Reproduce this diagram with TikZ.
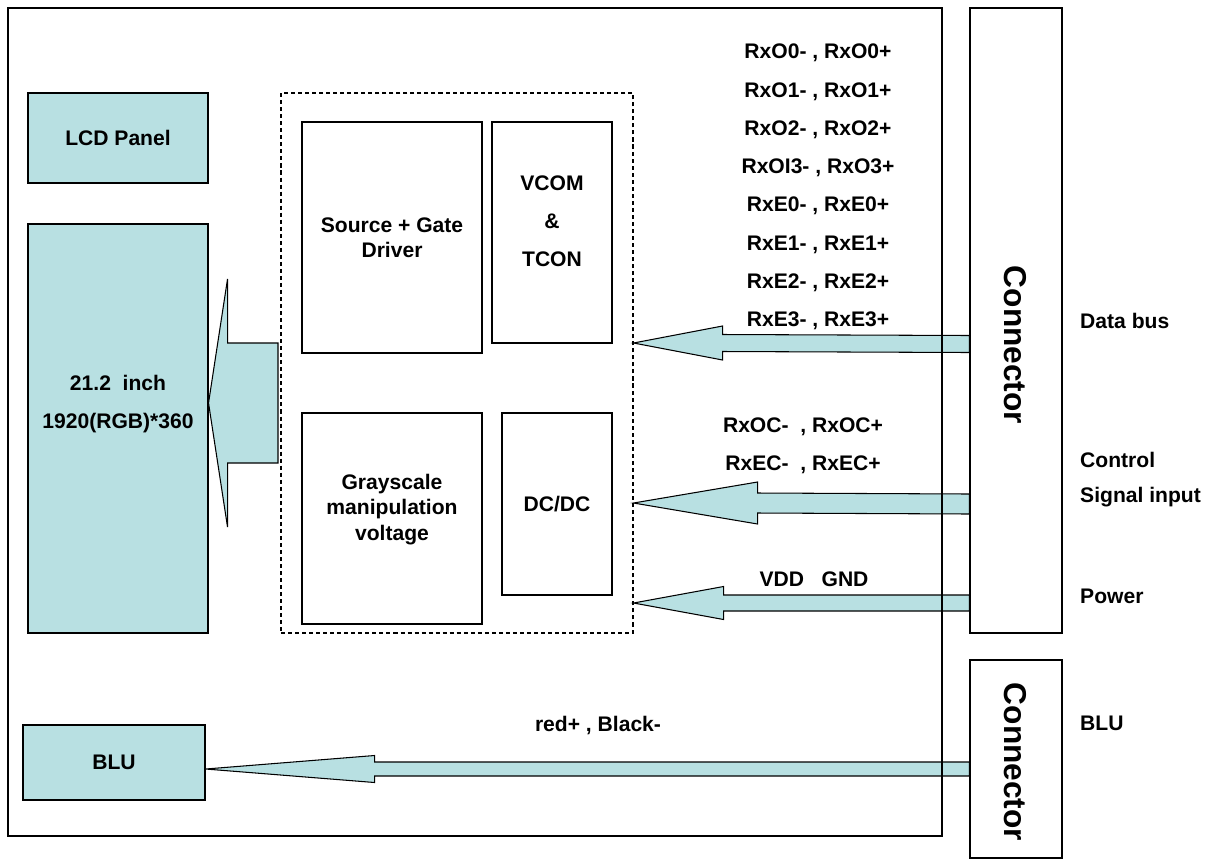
\documentclass[tikz,border=0pt]{standalone}
\usepackage{fontspec}
\setmainfont{Liberation Sans}
\usetikzlibrary{
    positioning,    % relative placement
    calc            % coordinate calculations for the block arrows
}

\definecolor{panelblue}{RGB}{184,224,226}

\begin{document}
\begin{tikzpicture}[
    font=\fontsize{12}{14.5}\selectfont\bfseries,
    box/.style={rectangle, draw, line width=0.6pt, align=center, inner sep=0pt},
    panel/.style={box, fill=panelblue},
    chip/.style={box, fill=white},
    conn/.style={box, minimum width=1.84cm},
    conntext/.style={rotate=-90, font=\fontsize{18}{20}\selectfont\bfseries},
    side/.style={anchor=west, align=left},
    barrow/.style n args={3}{draw, line width=0.6pt, fill=panelblue,
        to path={($(\tikztostart)+(0,#1)$) -- ($(\tikztotarget)+(#3,#1)$)
            -- ($(\tikztotarget)+(#3,#2)$) -- (\tikztotarget)
            -- ($(\tikztotarget)+(#3,-#2)$) -- ($(\tikztotarget)+(#3,-#1)$)
            -- ($(\tikztostart)+(0,-#1)$) -- cycle}}
]
    \useasboundingbox (0,0) rectangle (24.26,-17.2);

    % Panel side
    \node[panel, minimum width=3.6cm, minimum height=1.8cm] (lcd) at (2.36,-2.76) {LCD Panel};
    \node[panel, minimum width=3.6cm, minimum height=8.18cm] (screen) at (2.36,-8.57) {};
    \node[align=center] (screentxt) at (2.36,-8.08) {21.2\ \ inch\\[7pt]1920(RGB)*360};
    \node[panel, minimum width=3.64cm, minimum height=1.5cm] (blu) at (2.28,-15.25) {BLU};

    % Driver board (dashed)
    \node[box, dash pattern=on 2.3pt off 1.7pt, minimum width=7.04cm, minimum height=10.8cm] (drv) at (9.14,-7.26) {};
    \node[chip, minimum width=3.6cm, minimum height=4.62cm] (src) at (7.84,-4.75) {Source + Gate\\Driver};
    \node[chip, minimum width=2.4cm, minimum height=4.42cm] (vcom) at (11.04,-4.65) {};
    \node[align=center] (vcomtxt) at (11.04,-4.43) {VCOM\\[7pt]\&\\[7pt]TCON};
    \node[chip, minimum width=3.6cm, minimum height=4.22cm] (gray) at (7.84,-10.37) {};
    \node[align=center] (graytxt) at (7.84,-10.19) {Grayscale\\manipulation\\voltage};
    \node[chip, minimum width=2.2cm, minimum height=3.64cm] (dcdc) at (11.14,-10.08) {DC/DC};

    % Connectors
    \node[conn, minimum height=12.5cm] (conn1) at (20.32,-6.41) {};
    \node[conntext] (conn1txt) at (20.3,-6.9) {Connector};
    \node[conn, minimum height=3.96cm] (conn2) at (20.32,-15.18) {};
    \node[conntext] (conn2txt) at (20.3,-15.24) {Connector};

    % Arrow end points
    \coordinate (dbin) at (conn1.west |- 0,-6.88);
    \coordinate (dbout) at (drv.east |- 0,-6.86);
    \coordinate (ctlin) at (conn1.west |- 0,-10.08);
    \coordinate (ctlout) at (drv.east |- 0,-10.06);
    \coordinate (pwrin) at (conn1.west |- 0,-12.06);
    \coordinate (pwrout) at (drv.east |- 0,-12.06);
    \coordinate (bluin) at (conn2.west |- 0,-15.38);
    \coordinate (bluout) at (blu.east |- 0,-15.38);
    \coordinate (bigtail) at (5.56,-8.06);
    \coordinate (bigtip) at (screen.east |- 0,-8.06);

    % Block arrows
    \draw[barrow={1.2}{2.48}{0.38}] (bigtail) to (bigtip);
    \draw[barrow={0.17}{0.34}{1.78}] (dbin) to (dbout);
    \draw[barrow={0.2}{0.42}{2.48}] (ctlin) to (ctlout);
    \draw[barrow={0.16}{0.33}{1.8}] (pwrin) to (pwrout);
    \draw[barrow={0.14}{0.27}{3.38}] (bluin) to (bluout);

    % Signal names
    \foreach \lbl [count=\i from 0] in {{RxO0- , RxO0+}, {RxO1- , RxO1+}, {RxO2- , RxO2+}, {RxOI3- , RxO3+},
        {RxE0- , RxE0+}, {RxE1- , RxE1+}, {RxE2- , RxE2+}, {RxE3- , RxE3+}}
        \node (rx\i) at (16.36,-1.06-0.766*\i) {\lbl};
    \node (rxoc) at (16.06,-8.53) {RxOC-\ \ , RxOC+};
    \node (rxec) at (16.06,-9.3) {RxEC-\ \ , RxEC+};
    \node (vdd) at (16.28,-11.58) {VDD\ \ \ GND};
    \node (bluwire) at (11.96,-14.5) {red+ , Black-};

    % Outside labels
    \node[side] (databus) at (21.48,-6.42) {Data bus};
    \node[side] (ctrl) at (21.48,-9.2) {Control};
    \node[side] (siginp) at (21.48,-9.94) {Signal input};
    \node[side] (power) at (21.48,-11.92) {Power};
    \node[side] (blulbl) at (21.48,-14.46) {BLU};

    % Module outline
    \node[box, minimum width=18.68cm, minimum height=16.56cm] (board) at (9.5,-8.44) {};
\end{tikzpicture}
\end{document}
